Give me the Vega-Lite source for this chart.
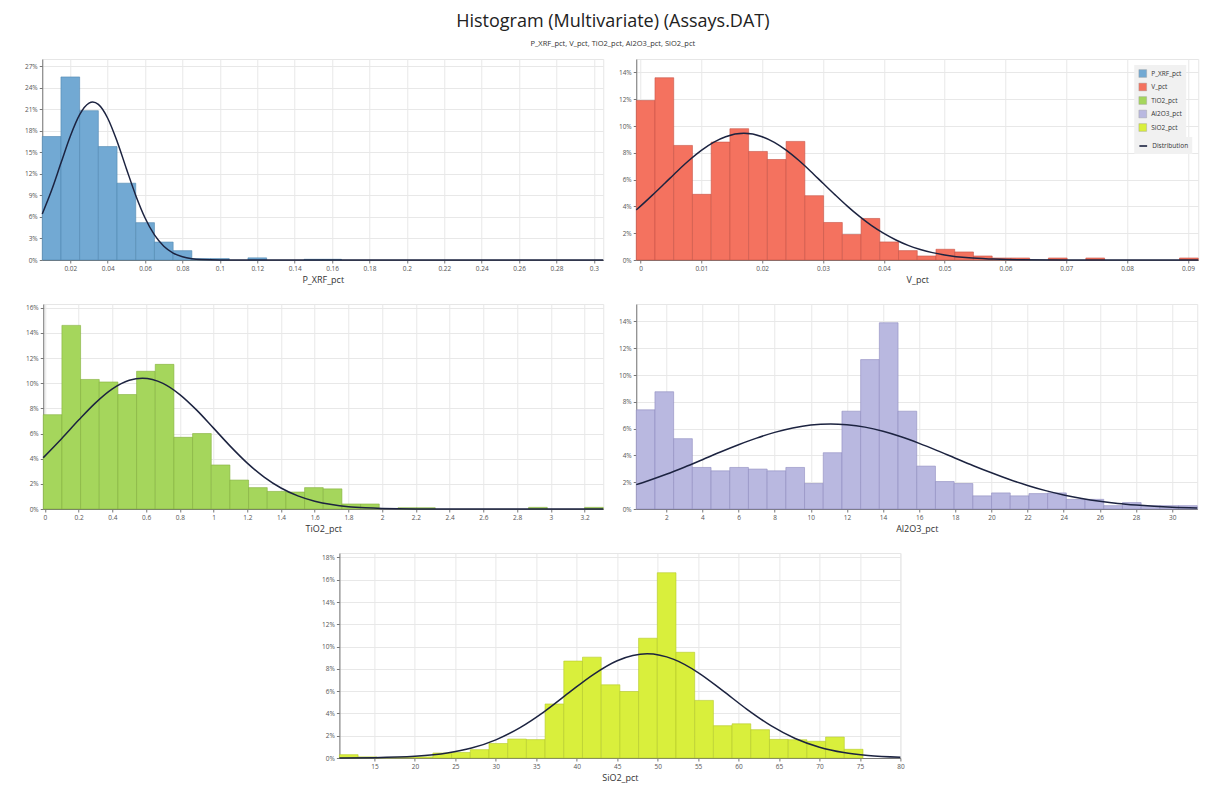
{
  "$schema": "https://vega.github.io/schema/vega-lite/v6.json",
  "background": "white",
  "padding": {"left": 23, "top": 13, "right": 8, "bottom": 2},
  "title": {
    "text": "Histogram (Multivariate) (Assays.DAT)",
    "subtitle": "P_XRF_pct, V_pct, TiO2_pct, Al2O3_pct, SiO2_pct",
    "fontSize": 18, "font": "Open Sans", "fontWeight": "normal", "color": "#222222",
    "subtitleFontSize": 7.5, "subtitleFont": "Open Sans", "subtitleColor": "#333333",
    "anchor": "middle", "offset": 11, "subtitlePadding": 9
  },
  "datasets": {
    "bars": [
      {"var": "P_XRF_pct", "value": 0.005, "value_end": 0.015, "pct": 17.2},
      {"var": "P_XRF_pct", "value": 0.015, "value_end": 0.025, "pct": 25.5},
      {"var": "P_XRF_pct", "value": 0.025, "value_end": 0.035, "pct": 20.8},
      {"var": "P_XRF_pct", "value": 0.035, "value_end": 0.045, "pct": 15.8},
      {"var": "P_XRF_pct", "value": 0.045, "value_end": 0.055, "pct": 10.7},
      {"var": "P_XRF_pct", "value": 0.055, "value_end": 0.065, "pct": 5.2},
      {"var": "P_XRF_pct", "value": 0.065, "value_end": 0.075, "pct": 2.5},
      {"var": "P_XRF_pct", "value": 0.075, "value_end": 0.085, "pct": 1.3},
      {"var": "P_XRF_pct", "value": 0.085, "value_end": 0.095, "pct": 0.2},
      {"var": "P_XRF_pct", "value": 0.095, "value_end": 0.105, "pct": 0.2},
      {"var": "P_XRF_pct", "value": 0.115, "value_end": 0.125, "pct": 0.3},
      {"var": "P_XRF_pct", "value": 0.145, "value_end": 0.155, "pct": 0.1},
      {"var": "P_XRF_pct", "value": 0.155, "value_end": 0.165, "pct": 0.1},

      {"var": "V_pct", "value": -0.0007, "value_end": 0.00238, "pct": 11.9},
      {"var": "V_pct", "value": 0.00238, "value_end": 0.00546, "pct": 13.6},
      {"var": "V_pct", "value": 0.00546, "value_end": 0.00854, "pct": 8.55},
      {"var": "V_pct", "value": 0.00854, "value_end": 0.01162, "pct": 4.9},
      {"var": "V_pct", "value": 0.01162, "value_end": 0.0147, "pct": 8.8},
      {"var": "V_pct", "value": 0.0147, "value_end": 0.01778, "pct": 9.8},
      {"var": "V_pct", "value": 0.01778, "value_end": 0.02086, "pct": 8.1},
      {"var": "V_pct", "value": 0.02086, "value_end": 0.02394, "pct": 7.5},
      {"var": "V_pct", "value": 0.02394, "value_end": 0.02702, "pct": 8.85},
      {"var": "V_pct", "value": 0.02702, "value_end": 0.0301, "pct": 4.8},
      {"var": "V_pct", "value": 0.0301, "value_end": 0.03318, "pct": 2.8},
      {"var": "V_pct", "value": 0.03318, "value_end": 0.03626, "pct": 1.9},
      {"var": "V_pct", "value": 0.03626, "value_end": 0.03934, "pct": 3.1},
      {"var": "V_pct", "value": 0.03934, "value_end": 0.04242, "pct": 1.35},
      {"var": "V_pct", "value": 0.04242, "value_end": 0.0455, "pct": 0.7},
      {"var": "V_pct", "value": 0.0455, "value_end": 0.04858, "pct": 0.3},
      {"var": "V_pct", "value": 0.04858, "value_end": 0.05166, "pct": 0.8},
      {"var": "V_pct", "value": 0.05166, "value_end": 0.05474, "pct": 0.6},
      {"var": "V_pct", "value": 0.05474, "value_end": 0.05782, "pct": 0.3},
      {"var": "V_pct", "value": 0.05782, "value_end": 0.0609, "pct": 0.15},
      {"var": "V_pct", "value": 0.0609, "value_end": 0.06398, "pct": 0.15},
      {"var": "V_pct", "value": 0.06706, "value_end": 0.07014, "pct": 0.15},
      {"var": "V_pct", "value": 0.07322, "value_end": 0.0763, "pct": 0.15},
      {"var": "V_pct", "value": 0.08862, "value_end": 0.0917, "pct": 0.15},

      {"var": "TiO2_pct", "value": -0.01, "value_end": 0.1007, "pct": 7.5},
      {"var": "TiO2_pct", "value": 0.1007, "value_end": 0.2114, "pct": 14.6},
      {"var": "TiO2_pct", "value": 0.2114, "value_end": 0.3221, "pct": 10.3},
      {"var": "TiO2_pct", "value": 0.3221, "value_end": 0.4328, "pct": 10.1},
      {"var": "TiO2_pct", "value": 0.4328, "value_end": 0.5435, "pct": 9.1},
      {"var": "TiO2_pct", "value": 0.5435, "value_end": 0.6542, "pct": 10.95},
      {"var": "TiO2_pct", "value": 0.6542, "value_end": 0.7649, "pct": 11.5},
      {"var": "TiO2_pct", "value": 0.7649, "value_end": 0.8756, "pct": 5.7},
      {"var": "TiO2_pct", "value": 0.8756, "value_end": 0.9863, "pct": 6.0},
      {"var": "TiO2_pct", "value": 0.9863, "value_end": 1.097, "pct": 3.5},
      {"var": "TiO2_pct", "value": 1.097, "value_end": 1.2077, "pct": 2.3},
      {"var": "TiO2_pct", "value": 1.2077, "value_end": 1.3184, "pct": 1.7},
      {"var": "TiO2_pct", "value": 1.3184, "value_end": 1.4291, "pct": 1.4},
      {"var": "TiO2_pct", "value": 1.4291, "value_end": 1.5398, "pct": 1.35},
      {"var": "TiO2_pct", "value": 1.5398, "value_end": 1.6505, "pct": 1.7},
      {"var": "TiO2_pct", "value": 1.6505, "value_end": 1.7612, "pct": 1.6},
      {"var": "TiO2_pct", "value": 1.7612, "value_end": 1.8719, "pct": 0.4},
      {"var": "TiO2_pct", "value": 1.8719, "value_end": 1.9826, "pct": 0.4},
      {"var": "TiO2_pct", "value": 2.0933, "value_end": 2.204, "pct": 0.1},
      {"var": "TiO2_pct", "value": 2.204, "value_end": 2.3147, "pct": 0.1},
      {"var": "TiO2_pct", "value": 2.8682, "value_end": 2.9789, "pct": 0.13},
      {"var": "TiO2_pct", "value": 3.2003, "value_end": 3.311, "pct": 0.13},

      {"var": "Al2O3_pct", "value": 0.34, "value_end": 1.375, "pct": 7.4},
      {"var": "Al2O3_pct", "value": 1.375, "value_end": 2.41, "pct": 8.75},
      {"var": "Al2O3_pct", "value": 2.41, "value_end": 3.445, "pct": 5.25},
      {"var": "Al2O3_pct", "value": 3.445, "value_end": 4.48, "pct": 3.1},
      {"var": "Al2O3_pct", "value": 4.48, "value_end": 5.515, "pct": 2.85},
      {"var": "Al2O3_pct", "value": 5.515, "value_end": 6.55, "pct": 3.1},
      {"var": "Al2O3_pct", "value": 6.55, "value_end": 7.585, "pct": 2.98},
      {"var": "Al2O3_pct", "value": 7.585, "value_end": 8.62, "pct": 2.85},
      {"var": "Al2O3_pct", "value": 8.62, "value_end": 9.655, "pct": 3.1},
      {"var": "Al2O3_pct", "value": 9.655, "value_end": 10.69, "pct": 1.9},
      {"var": "Al2O3_pct", "value": 10.69, "value_end": 11.725, "pct": 4.2},
      {"var": "Al2O3_pct", "value": 11.725, "value_end": 12.76, "pct": 7.3},
      {"var": "Al2O3_pct", "value": 12.76, "value_end": 13.795, "pct": 11.15},
      {"var": "Al2O3_pct", "value": 13.795, "value_end": 14.83, "pct": 13.9},
      {"var": "Al2O3_pct", "value": 14.83, "value_end": 15.865, "pct": 7.3},
      {"var": "Al2O3_pct", "value": 15.865, "value_end": 16.9, "pct": 3.2},
      {"var": "Al2O3_pct", "value": 16.9, "value_end": 17.935, "pct": 2.05},
      {"var": "Al2O3_pct", "value": 17.935, "value_end": 18.97, "pct": 1.9},
      {"var": "Al2O3_pct", "value": 18.97, "value_end": 20.005, "pct": 0.98},
      {"var": "Al2O3_pct", "value": 20.005, "value_end": 21.04, "pct": 1.2},
      {"var": "Al2O3_pct", "value": 21.04, "value_end": 22.075, "pct": 0.98},
      {"var": "Al2O3_pct", "value": 22.075, "value_end": 23.11, "pct": 1.15},
      {"var": "Al2O3_pct", "value": 23.11, "value_end": 24.145, "pct": 1.2},
      {"var": "Al2O3_pct", "value": 24.145, "value_end": 25.18, "pct": 0.72},
      {"var": "Al2O3_pct", "value": 25.18, "value_end": 26.215, "pct": 0.72},
      {"var": "Al2O3_pct", "value": 26.215, "value_end": 27.25, "pct": 0.25},
      {"var": "Al2O3_pct", "value": 27.25, "value_end": 28.285, "pct": 0.48},
      {"var": "Al2O3_pct", "value": 28.285, "value_end": 29.32, "pct": 0.25},
      {"var": "Al2O3_pct", "value": 29.32, "value_end": 30.355, "pct": 0.25},
      {"var": "Al2O3_pct", "value": 30.355, "value_end": 31.39, "pct": 0.25},

      {"var": "SiO2_pct", "value": 10.67, "value_end": 12.981, "pct": 0.3},
      {"var": "SiO2_pct", "value": 12.981, "value_end": 15.292, "pct": 0.1},
      {"var": "SiO2_pct", "value": 15.292, "value_end": 17.603, "pct": 0.05},
      {"var": "SiO2_pct", "value": 17.603, "value_end": 19.914, "pct": 0.05},
      {"var": "SiO2_pct", "value": 19.914, "value_end": 22.225, "pct": 0.1},
      {"var": "SiO2_pct", "value": 22.225, "value_end": 24.536, "pct": 0.45},
      {"var": "SiO2_pct", "value": 24.536, "value_end": 26.847, "pct": 0.5},
      {"var": "SiO2_pct", "value": 26.847, "value_end": 29.158, "pct": 0.75},
      {"var": "SiO2_pct", "value": 29.158, "value_end": 31.469, "pct": 1.3},
      {"var": "SiO2_pct", "value": 31.469, "value_end": 33.78, "pct": 1.7},
      {"var": "SiO2_pct", "value": 33.78, "value_end": 36.091, "pct": 1.65},
      {"var": "SiO2_pct", "value": 36.091, "value_end": 38.402, "pct": 4.85},
      {"var": "SiO2_pct", "value": 38.402, "value_end": 40.713, "pct": 8.7},
      {"var": "SiO2_pct", "value": 40.713, "value_end": 43.024, "pct": 9.05},
      {"var": "SiO2_pct", "value": 43.024, "value_end": 45.335, "pct": 6.57},
      {"var": "SiO2_pct", "value": 45.335, "value_end": 47.646, "pct": 5.97},
      {"var": "SiO2_pct", "value": 47.646, "value_end": 49.957, "pct": 10.75},
      {"var": "SiO2_pct", "value": 49.957, "value_end": 52.268, "pct": 16.63},
      {"var": "SiO2_pct", "value": 52.268, "value_end": 54.579, "pct": 9.49},
      {"var": "SiO2_pct", "value": 54.579, "value_end": 56.89, "pct": 5.17},
      {"var": "SiO2_pct", "value": 56.89, "value_end": 59.201, "pct": 2.9},
      {"var": "SiO2_pct", "value": 59.201, "value_end": 61.512, "pct": 3.07},
      {"var": "SiO2_pct", "value": 61.512, "value_end": 63.823, "pct": 2.54},
      {"var": "SiO2_pct", "value": 63.823, "value_end": 66.134, "pct": 1.67},
      {"var": "SiO2_pct", "value": 66.134, "value_end": 68.445, "pct": 1.64},
      {"var": "SiO2_pct", "value": 68.445, "value_end": 70.756, "pct": 1.5},
      {"var": "SiO2_pct", "value": 70.756, "value_end": 73.067, "pct": 1.88},
      {"var": "SiO2_pct", "value": 73.067, "value_end": 75.378, "pct": 0.78}
    ],
    "curves": [
      {"var": "P_XRF_pct", "value": 0.005, "pct": 6.42},
      {"var": "P_XRF_pct", "value": 0.01, "pct": 9.71},
      {"var": "P_XRF_pct", "value": 0.015, "pct": 13.5},
      {"var": "P_XRF_pct", "value": 0.02, "pct": 17.25},
      {"var": "P_XRF_pct", "value": 0.025, "pct": 20.25},
      {"var": "P_XRF_pct", "value": 0.03, "pct": 21.85},
      {"var": "P_XRF_pct", "value": 0.032, "pct": 22.0},
      {"var": "P_XRF_pct", "value": 0.035, "pct": 21.67},
      {"var": "P_XRF_pct", "value": 0.04, "pct": 19.75},
      {"var": "P_XRF_pct", "value": 0.045, "pct": 16.54},
      {"var": "P_XRF_pct", "value": 0.05, "pct": 12.72},
      {"var": "P_XRF_pct", "value": 0.055, "pct": 9.0},
      {"var": "P_XRF_pct", "value": 0.06, "pct": 5.85},
      {"var": "P_XRF_pct", "value": 0.065, "pct": 3.49},
      {"var": "P_XRF_pct", "value": 0.07, "pct": 1.92},
      {"var": "P_XRF_pct", "value": 0.075, "pct": 0.97},
      {"var": "P_XRF_pct", "value": 0.08, "pct": 0.45},
      {"var": "P_XRF_pct", "value": 0.085, "pct": 0.19},
      {"var": "P_XRF_pct", "value": 0.09, "pct": 0.075},
      {"var": "P_XRF_pct", "value": 0.1, "pct": 0.01},
      {"var": "P_XRF_pct", "value": 0.12, "pct": 0},
      {"var": "P_XRF_pct", "value": 0.2, "pct": 0},
      {"var": "P_XRF_pct", "value": 0.305, "pct": 0},

      {"var": "V_pct", "value": -0.0007, "pct": 3.74},
      {"var": "V_pct", "value": 0.0, "pct": 4.02},
      {"var": "V_pct", "value": 0.002, "pct": 4.86},
      {"var": "V_pct", "value": 0.004, "pct": 5.73},
      {"var": "V_pct", "value": 0.006, "pct": 6.61},
      {"var": "V_pct", "value": 0.008, "pct": 7.44},
      {"var": "V_pct", "value": 0.01, "pct": 8.18},
      {"var": "V_pct", "value": 0.012, "pct": 8.78},
      {"var": "V_pct", "value": 0.014, "pct": 9.2},
      {"var": "V_pct", "value": 0.017, "pct": 9.45},
      {"var": "V_pct", "value": 0.02, "pct": 9.2},
      {"var": "V_pct", "value": 0.022, "pct": 8.78},
      {"var": "V_pct", "value": 0.024, "pct": 8.18},
      {"var": "V_pct", "value": 0.026, "pct": 7.44},
      {"var": "V_pct", "value": 0.028, "pct": 6.61},
      {"var": "V_pct", "value": 0.03, "pct": 5.73},
      {"var": "V_pct", "value": 0.032, "pct": 4.86},
      {"var": "V_pct", "value": 0.034, "pct": 4.02},
      {"var": "V_pct", "value": 0.036, "pct": 3.25},
      {"var": "V_pct", "value": 0.038, "pct": 2.56},
      {"var": "V_pct", "value": 0.04, "pct": 1.98},
      {"var": "V_pct", "value": 0.042, "pct": 1.49},
      {"var": "V_pct", "value": 0.044, "pct": 1.09},
      {"var": "V_pct", "value": 0.046, "pct": 0.79},
      {"var": "V_pct", "value": 0.048, "pct": 0.55},
      {"var": "V_pct", "value": 0.05, "pct": 0.38},
      {"var": "V_pct", "value": 0.054, "pct": 0.16},
      {"var": "V_pct", "value": 0.058, "pct": 0.07},
      {"var": "V_pct", "value": 0.062, "pct": 0.02},
      {"var": "V_pct", "value": 0.07, "pct": 0},
      {"var": "V_pct", "value": 0.0917, "pct": 0},

      {"var": "TiO2_pct", "value": -0.01, "pct": 4.08},
      {"var": "TiO2_pct", "value": 0.1, "pct": 5.61},
      {"var": "TiO2_pct", "value": 0.2, "pct": 7.07},
      {"var": "TiO2_pct", "value": 0.3, "pct": 8.44},
      {"var": "TiO2_pct", "value": 0.4, "pct": 9.55},
      {"var": "TiO2_pct", "value": 0.5, "pct": 10.23},
      {"var": "TiO2_pct", "value": 0.578, "pct": 10.4},
      {"var": "TiO2_pct", "value": 0.7, "pct": 9.99},
      {"var": "TiO2_pct", "value": 0.8, "pct": 9.1},
      {"var": "TiO2_pct", "value": 0.9, "pct": 7.86},
      {"var": "TiO2_pct", "value": 1.0, "pct": 6.43},
      {"var": "TiO2_pct", "value": 1.1, "pct": 4.98},
      {"var": "TiO2_pct", "value": 1.2, "pct": 3.65},
      {"var": "TiO2_pct", "value": 1.3, "pct": 2.54},
      {"var": "TiO2_pct", "value": 1.4, "pct": 1.67},
      {"var": "TiO2_pct", "value": 1.5, "pct": 1.04},
      {"var": "TiO2_pct", "value": 1.6, "pct": 0.62},
      {"var": "TiO2_pct", "value": 1.7, "pct": 0.35},
      {"var": "TiO2_pct", "value": 1.8, "pct": 0.18},
      {"var": "TiO2_pct", "value": 1.9, "pct": 0.09},
      {"var": "TiO2_pct", "value": 2.0, "pct": 0.04},
      {"var": "TiO2_pct", "value": 2.2, "pct": 0.005},
      {"var": "TiO2_pct", "value": 3.311, "pct": 0},

      {"var": "Al2O3_pct", "value": 0.34, "pct": 1.82},
      {"var": "Al2O3_pct", "value": 1, "pct": 2.11},
      {"var": "Al2O3_pct", "value": 2, "pct": 2.59},
      {"var": "Al2O3_pct", "value": 3, "pct": 3.12},
      {"var": "Al2O3_pct", "value": 4, "pct": 3.68},
      {"var": "Al2O3_pct", "value": 5, "pct": 4.25},
      {"var": "Al2O3_pct", "value": 6, "pct": 4.79},
      {"var": "Al2O3_pct", "value": 7, "pct": 5.29},
      {"var": "Al2O3_pct", "value": 8, "pct": 5.72},
      {"var": "Al2O3_pct", "value": 9, "pct": 6.05},
      {"var": "Al2O3_pct", "value": 10, "pct": 6.27},
      {"var": "Al2O3_pct", "value": 11.1, "pct": 6.35},
      {"var": "Al2O3_pct", "value": 12, "pct": 6.29},
      {"var": "Al2O3_pct", "value": 13, "pct": 6.11},
      {"var": "Al2O3_pct", "value": 14, "pct": 5.8},
      {"var": "Al2O3_pct", "value": 15, "pct": 5.39},
      {"var": "Al2O3_pct", "value": 16, "pct": 4.9},
      {"var": "Al2O3_pct", "value": 17, "pct": 4.36},
      {"var": "Al2O3_pct", "value": 18, "pct": 3.79},
      {"var": "Al2O3_pct", "value": 19, "pct": 3.23},
      {"var": "Al2O3_pct", "value": 20, "pct": 2.7},
      {"var": "Al2O3_pct", "value": 21, "pct": 2.2},
      {"var": "Al2O3_pct", "value": 22, "pct": 1.76},
      {"var": "Al2O3_pct", "value": 23, "pct": 1.37},
      {"var": "Al2O3_pct", "value": 24, "pct": 1.05},
      {"var": "Al2O3_pct", "value": 25, "pct": 0.79},
      {"var": "Al2O3_pct", "value": 26, "pct": 0.58},
      {"var": "Al2O3_pct", "value": 27, "pct": 0.41},
      {"var": "Al2O3_pct", "value": 28, "pct": 0.29},
      {"var": "Al2O3_pct", "value": 29, "pct": 0.2},
      {"var": "Al2O3_pct", "value": 30, "pct": 0.13},
      {"var": "Al2O3_pct", "value": 31.39, "pct": 0.074},

      {"var": "SiO2_pct", "value": 10.67, "pct": 0.007},
      {"var": "SiO2_pct", "value": 15, "pct": 0.03},
      {"var": "SiO2_pct", "value": 20, "pct": 0.15},
      {"var": "SiO2_pct", "value": 24, "pct": 0.44},
      {"var": "SiO2_pct", "value": 27, "pct": 0.89},
      {"var": "SiO2_pct", "value": 30, "pct": 1.63},
      {"var": "SiO2_pct", "value": 33, "pct": 2.73},
      {"var": "SiO2_pct", "value": 36, "pct": 4.17},
      {"var": "SiO2_pct", "value": 39, "pct": 5.84},
      {"var": "SiO2_pct", "value": 42, "pct": 7.47},
      {"var": "SiO2_pct", "value": 45, "pct": 8.73},
      {"var": "SiO2_pct", "value": 48.7, "pct": 9.35},
      {"var": "SiO2_pct", "value": 52, "pct": 8.85},
      {"var": "SiO2_pct", "value": 55, "pct": 7.67},
      {"var": "SiO2_pct", "value": 58, "pct": 6.07},
      {"var": "SiO2_pct", "value": 61, "pct": 4.39},
      {"var": "SiO2_pct", "value": 64, "pct": 2.9},
      {"var": "SiO2_pct", "value": 67, "pct": 1.75},
      {"var": "SiO2_pct", "value": 70, "pct": 0.97},
      {"var": "SiO2_pct", "value": 73, "pct": 0.49},
      {"var": "SiO2_pct", "value": 76, "pct": 0.23},
      {"var": "SiO2_pct", "value": 80, "pct": 0.07}
    ]
  },
  "vconcat": [
    {
      "hconcat": [
        {
          "width": 561, "height": 201,
          "encoding": {
            "x": {"field": "value", "type": "quantitative", "title": "P_XRF_pct",
              "scale": {"domain": [0.005, 0.305], "nice": false, "zero": false},
              "axis": {"values": [0.02,0.04,0.06,0.08,0.1,0.12,0.14,0.16,0.18,0.2,0.22,0.24,0.26,0.28,0.3], "format": "~g"}},
            "y": {"field": "pct", "type": "quantitative", "title": null,
              "scale": {"domain": [0, 28], "nice": false},
              "axis": {"values": [0,3,6,9,12,15,18,21,24,27], "labelExpr": "datum.value + '%'"}}
          },
          "layer": [
            {
              "data": {"name": "bars"},
              "transform": [{"filter": "datum.var === 'P_XRF_pct'"}],
              "mark": {"type": "bar", "fill": "#72a9d3", "stroke": "#4f86b0", "strokeWidth": 0.6},
              "encoding": {"x2": {"field": "value_end"}, "y2": {"datum": 0}}
            },
            {
              "data": {"name": "curves"},
              "transform": [{"filter": "datum.var === 'P_XRF_pct'"}],
              "mark": {"type": "line", "color": "#1c2340", "strokeWidth": 1.5, "interpolate": "monotone"},
              "encoding": {}
            }
          ]
        },
        {
          "width": 562, "height": 201,
          "encoding": {
            "x": {"field": "value", "type": "quantitative", "title": "V_pct",
              "scale": {"domain": [-0.0007, 0.0917], "nice": false, "zero": false},
              "axis": {"values": [0,0.01,0.02,0.03,0.04,0.05,0.06,0.07,0.08,0.09], "format": "~g"}},
            "y": {"field": "pct", "type": "quantitative", "title": null,
              "scale": {"domain": [0, 15], "nice": false},
              "axis": {"values": [0,2,4,6,8,10,12,14], "labelExpr": "datum.value + '%'"}}
          },
          "layer": [
            {
              "data": {"name": "bars"},
              "transform": [{"filter": "datum.var === 'V_pct'"}],
              "mark": {"type": "bar", "stroke": "#c85446", "strokeWidth": 0.6, "opacity": 1},
              "encoding": {
                "x2": {"field": "value_end"}, "y2": {"datum": 0},
                "color": {"field": "var", "type": "nominal",
                  "scale": {"domain": ["P_XRF_pct","V_pct","TiO2_pct","Al2O3_pct","SiO2_pct"],
                            "range": ["#72a9d3","#f4725f","#a5d65c","#b9b8e0","#d9ef3c"]},
                  "legend": {
                    "title": null, "orient": "top-right", "offset": 6,
                    "fillColor": "#f1f1f1", "padding": 4,
                    "labelFontSize": 6.5, "labelFont": "Open Sans", "labelColor": "#333333",
                    "symbolSize": 60, "symbolType": "square", "rowPadding": 2.5,
                    "symbolStrokeColor": "#9a9a9a", "symbolStrokeWidth": 0.4
                  }}
              }
            },
            {
              "data": {"name": "curves"},
              "transform": [{"filter": "datum.var === 'V_pct'"}],
              "mark": {"type": "line", "strokeWidth": 1.5, "interpolate": "monotone"},
              "encoding": {
                "color": {"datum": "Distribution", "type": "nominal",
                  "scale": {"domain": ["Distribution"], "range": ["#1c2340"]},
                  "legend": {
                    "title": null, "orient": "top-right", "offset": 6,
                    "fillColor": "#f1f1f1", "padding": 4,
                    "labelFontSize": 6.5, "labelFont": "Open Sans", "labelColor": "#333333",
                    "symbolType": "stroke", "symbolSize": 60, "symbolStrokeWidth": 1.6
                  }}
              }
            }
          ],
          "resolve": {"scale": {"color": "independent"}, "legend": {"color": "independent"}}
        }
      ],
      "spacing": 10,
      "resolve": {"scale": {"color": "independent"}, "legend": {"color": "independent"}}
    },
    {
      "hconcat": [
        {
          "width": 560, "height": 205,
          "encoding": {
            "x": {"field": "value", "type": "quantitative", "title": "TiO2_pct",
              "scale": {"domain": [-0.01, 3.311], "nice": false, "zero": false},
              "axis": {"values": [0,0.2,0.4,0.6,0.8,1,1.2,1.4,1.6,1.8,2,2.2,2.4,2.6,2.8,3,3.2], "format": "~g"}},
            "y": {"field": "pct", "type": "quantitative", "title": null,
              "scale": {"domain": [0, 16.3], "nice": false},
              "axis": {"values": [0,2,4,6,8,10,12,14,16], "labelExpr": "datum.value + '%'"}}
          },
          "layer": [
            {
              "data": {"name": "bars"},
              "transform": [{"filter": "datum.var === 'TiO2_pct'"}],
              "mark": {"type": "bar", "fill": "#a5d65c", "stroke": "#84b03c", "strokeWidth": 0.6},
              "encoding": {"x2": {"field": "value_end"}, "y2": {"datum": 0}}
            },
            {
              "data": {"name": "curves"},
              "transform": [{"filter": "datum.var === 'TiO2_pct'"}],
              "mark": {"type": "line", "color": "#1c2340", "strokeWidth": 1.5, "interpolate": "monotone"},
              "encoding": {}
            }
          ]
        },
        {
          "width": 561, "height": 205,
          "encoding": {
            "x": {"field": "value", "type": "quantitative", "title": "Al2O3_pct",
              "scale": {"domain": [0.34, 31.39], "nice": false, "zero": false},
              "axis": {"values": [2,4,6,8,10,12,14,16,18,20,22,24,26,28,30], "format": "~g"}},
            "y": {"field": "pct", "type": "quantitative", "title": null,
              "scale": {"domain": [0, 15.3], "nice": false},
              "axis": {"values": [0,2,4,6,8,10,12,14], "labelExpr": "datum.value + '%'"}}
          },
          "layer": [
            {
              "data": {"name": "bars"},
              "transform": [{"filter": "datum.var === 'Al2O3_pct'"}],
              "mark": {"type": "bar", "fill": "#b9b8e0", "stroke": "#8e8cc0", "strokeWidth": 0.6},
              "encoding": {"x2": {"field": "value_end"}, "y2": {"datum": 0}}
            },
            {
              "data": {"name": "curves"},
              "transform": [{"filter": "datum.var === 'Al2O3_pct'"}],
              "mark": {"type": "line", "color": "#1c2340", "strokeWidth": 1.5, "interpolate": "monotone"},
              "encoding": {}
            }
          ]
        }
      ],
      "spacing": 10
    },
    {
      "width": 561, "height": 205,
      "encoding": {
        "x": {"field": "value", "type": "quantitative", "title": "SiO2_pct",
          "scale": {"domain": [10.67, 80], "nice": false, "zero": false},
          "axis": {"values": [15,20,25,30,35,40,45,50,55,60,65,70,75,80], "format": "~g"}},
        "y": {"field": "pct", "type": "quantitative", "title": null,
          "scale": {"domain": [0, 18.4], "nice": false},
          "axis": {"values": [0,2,4,6,8,10,12,14,16,18], "labelExpr": "datum.value + '%'"}}
      },
      "layer": [
        {
          "data": {"name": "bars"},
          "transform": [{"filter": "datum.var === 'SiO2_pct'"}],
          "mark": {"type": "bar", "fill": "#d9ef3c", "stroke": "#b5c92a", "strokeWidth": 0.6},
          "encoding": {"x2": {"field": "value_end"}, "y2": {"datum": 0}}
        },
        {
          "data": {"name": "curves"},
          "transform": [{"filter": "datum.var === 'SiO2_pct'"}],
          "mark": {"type": "line", "color": "#1c2340", "strokeWidth": 1.5, "interpolate": "monotone"},
          "encoding": {}
        }
      ]
    }
  ],
  "spacing": 18,
  "center": true,
  "resolve": {"scale": {"color": "independent"}, "legend": {"color": "independent"}},
  "config": {
    "view": {"stroke": "#e6e6e6"},
    "legend": {
      "layout": {"top-right": {"direction": "vertical", "anchor": "end", "margin": -7}}
    },
    "axis": {
      "labelFontSize": 6.5, "labelFont": "Open Sans", "labelColor": "#555555",
      "tickSize": 3, "tickColor": "#777777", "domainColor": "#777777",
      "gridColor": "#e8e8e8", "titleFontSize": 9, "titleFontWeight": "normal",
      "titleColor": "#333333", "titleFont": "Open Sans", "labelPadding": 2, "titlePadding": 4,
      "labelFlush": false, "labelOverlap": false
    }
  }
}
